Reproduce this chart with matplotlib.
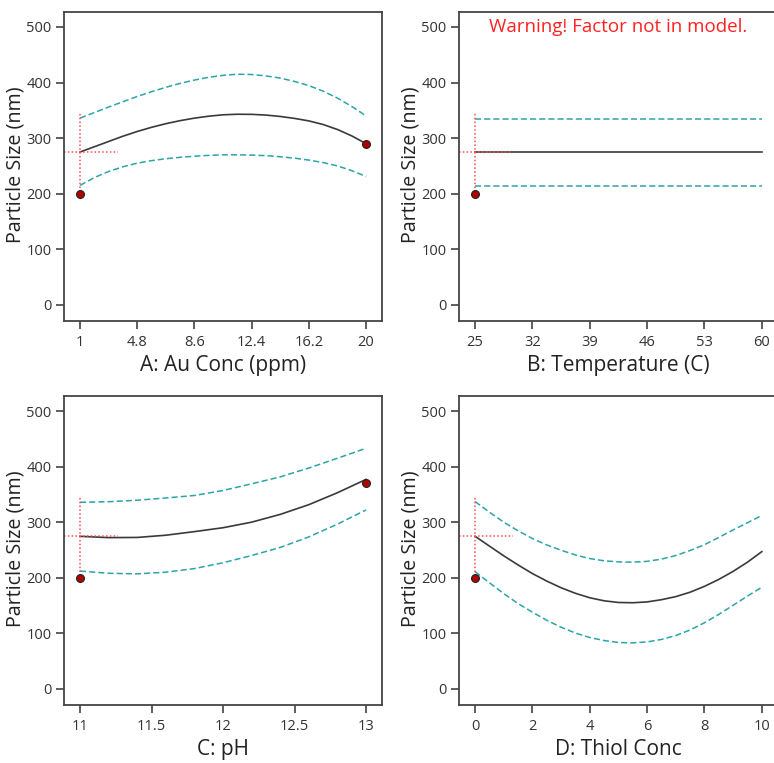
import matplotlib
matplotlib.use("Agg")
import matplotlib.pyplot as plt

plt.rcParams['font.family'] = ['Open Sans', 'DejaVu Sans']

# values (Particle Size, nm)
a_x = [1, 1.95, 2.9, 3.85, 4.8, 5.75, 6.7, 7.65, 8.6, 9.55, 10.5,
       11.45, 12.4, 13.35, 14.3, 15.25, 16.2, 17.15, 18.1, 19.05, 20]
a_mean = [275, 284.5, 294, 303.5, 312, 319.5, 326, 331.5, 336, 339.5, 342,
          343, 342.8, 341.5, 339, 335.5, 331, 324.5, 315.5, 304, 290]
a_upper = [336, 346, 356, 365.5, 375, 383.5, 391.5, 398.5, 404.5, 409.5, 413,
           415, 414.5, 412, 408, 402, 394.5, 384.5, 372, 357, 340]
a_lower = [215, 229, 240, 248.5, 255, 259.5, 263, 265.5, 267.5, 269, 270,
           270, 269.5, 268.5, 266.5, 264, 260.5, 256, 250, 241.5, 231]
a_pts_x = [1, 20]
a_pts_y = [199, 289]
a_ticks = [1, 4.8, 8.6, 12.4, 16.2, 20]
a_labels = ['1', '4.8', '8.6', '12.4', '16.2', '20']

b_x = [25, 60]
b_mean = [275, 275]
b_upper = [334, 334]
b_lower = [214, 214]
b_pts_x = [25]
b_pts_y = [199]
b_ticks = [25, 32, 39, 46, 53, 60]
b_labels = ['25', '32', '39', '46', '53', '60']

c_x = [11, 11.2, 11.4, 11.6, 11.8, 12, 12.2, 12.4, 12.6, 12.8, 13]
c_mean = [274.5, 272.2, 272.5, 276.5, 283, 290, 300, 314, 331.5, 353, 377]
c_upper = [335.7, 336.8, 339.5, 343.5, 348, 357, 369, 381.5, 397.5, 415, 433]
c_lower = [212, 208, 207, 210, 216.5, 227, 240, 254.5, 273.5, 296.5, 322]
c_pts_x = [11, 13]
c_pts_y = [199, 370]
c_ticks = [11, 11.5, 12, 12.5, 13]
c_labels = ['11', '11.5', '12', '12.5', '13']

d_x = [0, 0.5, 1, 1.5, 2, 2.5, 3, 3.5, 4, 4.5, 5,
       5.5, 6, 6.5, 7, 7.5, 8, 8.5, 9, 9.5, 10]
d_mean = [274.6, 257, 239.5, 223, 207.5, 194, 182, 172, 164, 158.5, 155.5,
          155, 156.5, 160.5, 166, 174, 184.5, 197, 211.5, 228, 247]
d_upper = [337, 318, 300, 284.5, 270.5, 259, 249.5, 241, 234.5, 230.5, 228.5,
           228, 229.5, 233.5, 240, 249, 259.5, 272.5, 286, 299, 312]
d_lower = [211, 191, 171.5, 153.5, 138, 123.5, 111, 100.5, 92.5, 87, 83.5,
           82.8, 84.5, 89, 96, 106, 119, 134, 150.5, 167, 183]
d_pts_x = [0]
d_pts_y = [199]
d_ticks = [0, 2, 4, 6, 8, 10]
d_labels = ['0', '2', '4', '6', '8', '10']

y_ticks = [0, 100, 200, 300, 400, 500]
pred = 275

panels = [
    (a_x, a_mean, a_upper, a_lower, a_pts_x, a_pts_y, a_ticks, a_labels, 'A: Au Conc (ppm)'),
    (b_x, b_mean, b_upper, b_lower, b_pts_x, b_pts_y, b_ticks, b_labels, 'B: Temperature (C)'),
    (c_x, c_mean, c_upper, c_lower, c_pts_x, c_pts_y, c_ticks, c_labels, 'C: pH'),
    (d_x, d_mean, d_upper, d_lower, d_pts_x, d_pts_y, d_ticks, d_labels, 'D: Thiol Conc'),
]

# axes boxes in figure fractions
boxes = [
    [0.0827, 0.5793, 0.411, 0.405],
    [0.5930, 0.5793, 0.412, 0.405],
    [0.0827, 0.0760, 0.411, 0.405],
    [0.5930, 0.0760, 0.412, 0.405],
]

fig = plt.figure(figsize=(7.74, 7.63), dpi=100)

for box, (x, m, up, lo, px, py, ticks, labels, xlabel) in zip(boxes, panels):
    ax = fig.add_axes(box)
    x0, x1 = x[0], x[-1]
    span = x1 - x0
    ax.set_xlim(x0 - 0.056 * span, x1 + 0.056 * span)
    ax.set_ylim(-29, 527)

    ax.plot(x, up, color='#2ba4a8', lw=1.1, ls=(0, (4, 2)))
    ax.plot(x, lo, color='#2ba4a8', lw=1.1, ls=(0, (4, 2)))
    ax.plot(x, m, color='#3a3a3a', lw=1.2)

    # red crosshair at the current factor setting
    ax.plot([x0, x0], [210, 345], color='#ff4d4d', lw=1.1, ls=(0, (1, 1.5)))
    ax.plot([x0 - 0.056 * span, x0 + 0.133 * span], [pred, pred],
            color='#ff4d4d', lw=1.1, ls=(0, (1, 1.5)))

    ax.scatter(px, py, s=32, color='#b00000', edgecolors='#222222',
               linewidths=0.8, zorder=5, clip_on=False)

    ax.set_xticks(ticks)
    ax.set_xticklabels(labels)
    ax.set_yticks(y_ticks)
    ax.tick_params(direction='out', length=6, width=1.1, colors='#333333',
                   labelsize=10.5, pad=4)
    ax.tick_params(axis='y', pad=3)
    for s in ax.spines.values():
        s.set_color('#444444')
        s.set_linewidth(1.3)

    ax.set_xlabel(xlabel, fontsize=15, color='#222222')
    ax.xaxis.set_label_coords(0.5, -0.11)
    ax.set_ylabel('Particle Size (nm)', fontsize=14.2, color='#222222')
    ax.yaxis.set_label_coords(-0.122, 0.505)

    if xlabel.startswith('B'):
        ax.text(0.5, 0.95, 'Warning! Factor not in model.', color='#ff2222',
                fontsize=13.5, ha='center', va='center', transform=ax.transAxes)

fig.savefig('out.png', dpi=100)
